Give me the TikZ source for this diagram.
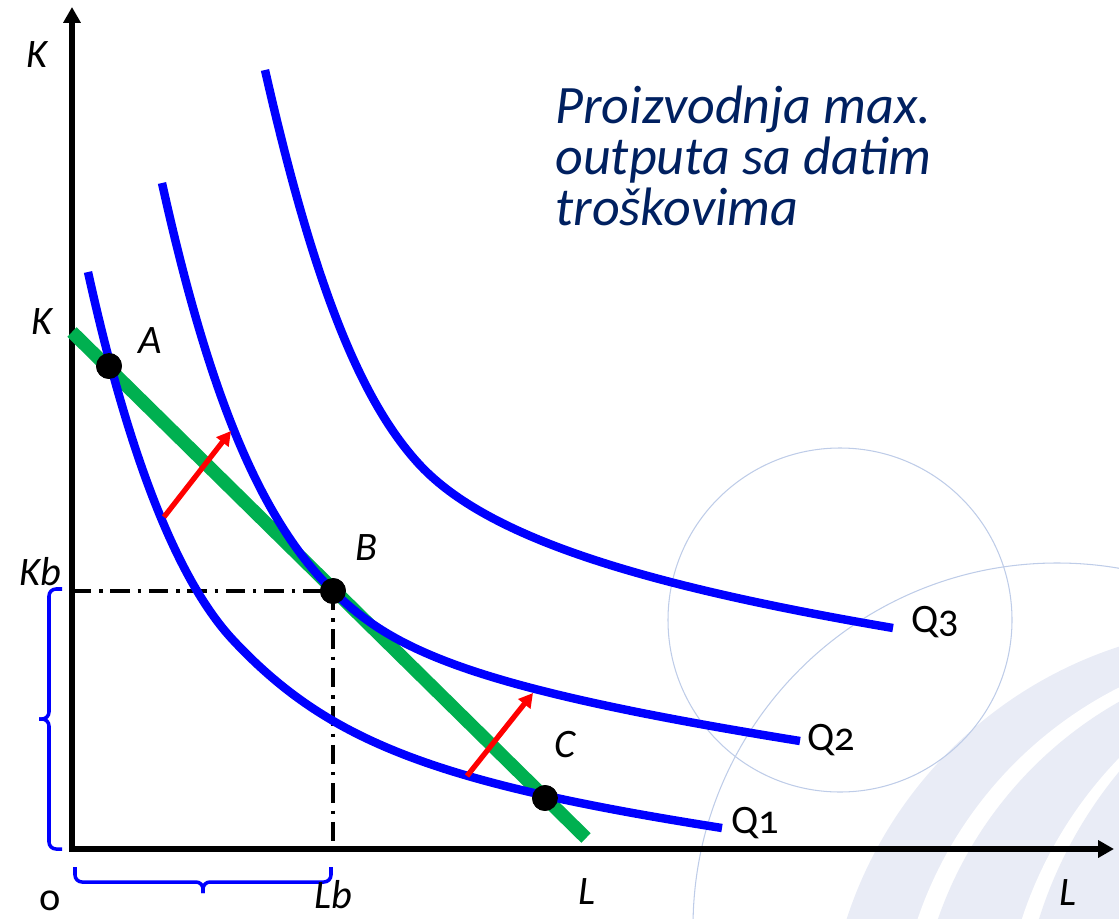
\documentclass[tikz,border=0pt]{standalone}
\usepackage{fontspec}
\setmainfont{Carlito}[Numbers=OldStyle]
\usetikzlibrary{arrows.meta}

\definecolor{qblue}{RGB}{0,0,255}
\definecolor{budget}{RGB}{0,176,80}
\definecolor{titlenavy}{RGB}{0,32,96}
\definecolor{ringfill}{RGB}{233,236,246}
\definecolor{ringline}{RGB}{190,204,232}

\tikzset{
  isoquant/.style={qblue, line width=4.8pt},
  budgetline/.style={budget, line width=7.6pt},
  axis/.style={line width=3.2pt, {Triangle[length=9pt,width=9.5pt]}-{Triangle[length=9pt,width=9.5pt]}},
  shiftarrow/.style={red, line width=3pt, -{Triangle[length=8pt,width=8.5pt]}},
  guide/.style={line width=1.9pt, dash pattern=on 11pt off 4.5pt on 1.9pt off 4.5pt},
  bracket/.style={qblue, line width=2pt, rounded corners=4pt},
  lbl/.style={font=\fontsize{23}{27}\selectfont\itshape, inner sep=0pt},
  qlbl/.style={font=\fontsize{23}{27}\selectfont, inner sep=0pt},
  dot/.style={circle, fill=black, minimum size=14.7pt, inner sep=0pt},
  titletext/.style={titlenavy, font=\fontsize{30.8}{29}\selectfont\itshape, align=left, inner sep=0pt},
}

\begin{document}
\begin{tikzpicture}[x=0.02cm, y=-0.02cm]
  \useasboundingbox (0,0) rectangle (1119,919);

  % background rings
  \fill[ringfill] (1250,1050) circle (424);
  \fill[white] (1302,1050) circle (406);
  \fill[ringfill] (1316,1050) circle (400);
  \fill[white] (1421,1050) circle (420);
  \fill[ringfill] (1456,1050) circle (437);
  \draw[ringline, line width=0.6pt] (840,620) circle (172);
  \draw[ringline, line width=0.6pt] (1057,927) circle (364);

  % axes
  \coordinate (O) at (72,849);
  \coordinate (ktop) at (72,7);
  \coordinate (lend) at (1114,849);
  \draw[axis, line join=miter] (ktop) -- (O) -- (lend);

  % points
  \node[dot] (A) at (109,366) {};
  \node[dot] (B) at (333,591) {};
  \node[dot] (C) at (545,798) {};
  \coordinate (kb) at (72,591);
  \coordinate (lb) at (333,849);
  \coordinate (kmax) at (72,332);
  \coordinate (lmax) at (586,838);

  % dash-dot guides
  \draw[guide] (kb) -- (B.center);
  \draw[guide] (B.center) -- (lb);

  % budget line
  \draw[budgetline] (kmax) -- (lmax);

  % isoquants
  \draw[isoquant] (88,272) .. controls (130,462) and (179.1,582.3) .. (233,640)
    .. controls (328,741.6) and (435.6,783) .. (722,828);
  \draw[isoquant] (162,183) .. controls (209.6,397.6) and (260.9,520) .. (B.center)
    .. controls (393,650.2) and (470,687.9) .. (800,741);
  \draw[isoquant] (265,70) .. controls (312.7,279.7) and (358.6,397.6) .. (418,463)
    .. controls (481.4,532.8) and (623.9,582.3) .. (893,628);

  % shifts
  \coordinate (s1) at (164,517);
  \coordinate (t1) at (231,431);
  \coordinate (s2) at (467,776);
  \coordinate (t2) at (533,693);
  \draw[shiftarrow] (s1) -- (t1);
  \draw[shiftarrow] (s2) -- (t2);

  % redraw dots on top
  \node[dot] at (A) {};
  \node[dot] at (B) {};
  \node[dot] at (C) {};

  % braces
  \draw[bracket] (62,589) -- (49,589) -- (49,719) -- (39,719);
  \draw[bracket] (39,719) -- (49,719) -- (49,849) -- (62,849);
  \draw[bracket] (75,867) -- (75,882) -- (203,882) -- (203,893);
  \draw[bracket] (203,893) -- (203,882) -- (331,882) -- (331,867);

  % labels
  \node[lbl] (ktoplbl) at (37,55) {K};
  \node[lbl] (klbl) at (42,322) {K};
  \node[lbl] (kblbl) at (40,572) {Kb};
  \node[qlbl] (olbl) at (50,901) {o};
  \node[lbl] (lblbl) at (333,895) {Lb};
  \node[lbl] (llbl) at (587,892) {L};
  \node[lbl] (lendlbl) at (1068,893) {L};
  \node[lbl] (albl) at (150,341) {A};
  \node[lbl] (blbl) at (366,548) {B};
  \node[lbl] (clbl) at (565,745) {C};
  \node[qlbl] (q1lbl) at (755,823) {Q1};
  \node[qlbl] (q2lbl) at (831,740) {Q2};
  \node[qlbl] (q3lbl) at (935,622) {Q3};

  \node[titletext, anchor=north west] (title) at (555,86) {Proizvodnja max.\\outputa sa datim\\troškovima};
\end{tikzpicture}
\end{document}
